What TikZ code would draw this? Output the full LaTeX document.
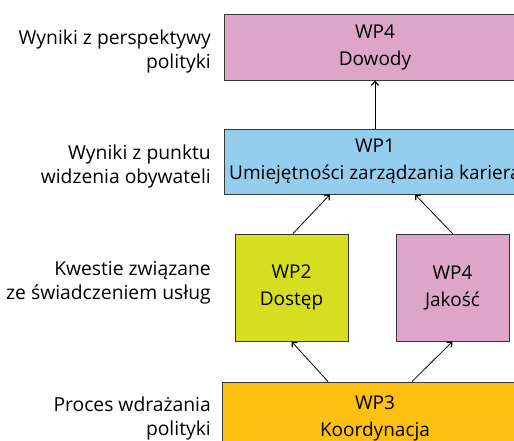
\documentclass[tikz,border=0pt]{standalone}
\usepackage{fontspec}
\setmainfont{Open Sans}
\usepackage{tikz}
\usetikzlibrary{arrows.meta}
\definecolor{wppink}{RGB}{221,165,200}
\definecolor{wpblue}{RGB}{149,205,238}
\definecolor{wpgreen}{RGB}{215,222,33}
\definecolor{wporange}{RGB}{252,192,16}
\definecolor{wpline}{RGB}{55,55,55}
\tikzstyle{wp}=[draw=wpline,line width=.9pt,align=center,inner sep=0pt,
  font=\fontsize{19}{27}\selectfont]
\tikzstyle{lvl}=[anchor=east,align=right,inner sep=0pt,
  font=\fontsize{19.3}{24}\selectfont]
\tikzstyle{flow}=[line width=.8pt,-{Straight Barb[length=4pt,width=7pt,line width=1.2pt]}]
\begin{document}
\begin{tikzpicture}[x=1pt,y=-1pt]
	\useasboundingbox (0,0) rectangle (514,441);
	\clip (0,0) rectangle (514,441);
	\node[wp,fill=wppink,minimum width=302pt,minimum height=66pt] (dowody) at (375,47) {WP4\\Dowody};
	\node[wp,fill=wpblue,minimum width=302pt,minimum height=65pt] (kariera) at (375,161.5) {WP1\\Umiejętności zarządzania kariera};
	\node[wp,fill=wpgreen,minimum width=113pt,minimum height=107pt] (dostep) at (291.5,287.5) {WP2\\Dostęp};
	\node[wp,fill=wppink,minimum width=113pt,minimum height=107pt] (jakosc) at (452.5,287.5) {WP4\\Jakość};
	\node[wp,fill=wporange,minimum width=306pt,minimum height=72pt] (koord) at (375,418) {WP3\\Koordynacja};
	% opisy poziomow
	\node[lvl] (l1) at (211,51) {Wyniki z perspektywy\\polityki};
	\node[lvl] (l2) at (211,166) {Wyniki z punktu\\widzenia obywateli};
	\node[lvl] (l3) at (211,283) {Kwestie związane\\ze świadczeniem usług};
	\node[lvl] (l4) at (211,418) {Proces wdrażania\\polityki};
	\draw[flow] (kariera) -- (dowody);
	\draw[flow] ([xshift=1.5pt]dostep.north) -- ([xshift=-45pt]kariera.south);
	\draw[flow] (jakosc.north) -- ([xshift=40pt]kariera.south);
	\draw[flow] ([xshift=-47pt]koord.north) -- (dostep.south);
	\draw[flow] ([xshift=37pt]koord.north) -- (jakosc.south);
\end{tikzpicture}
\end{document}
